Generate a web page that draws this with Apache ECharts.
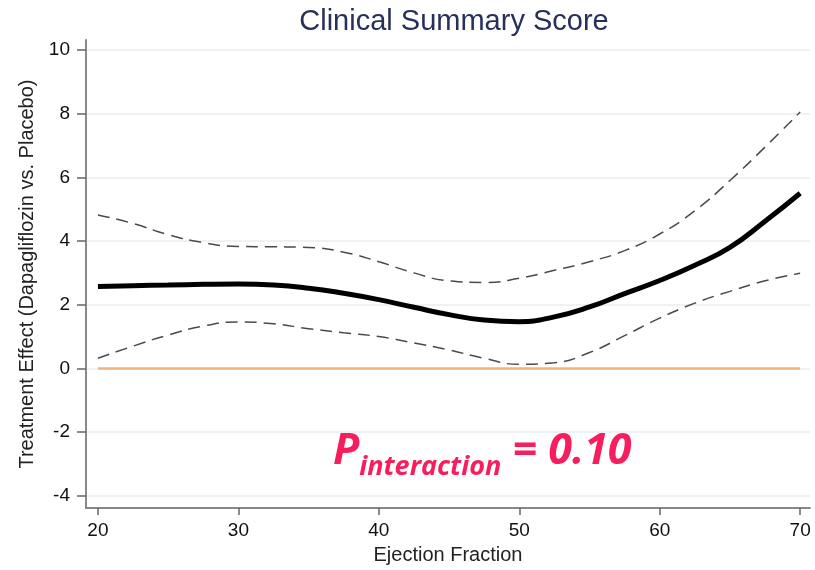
<!DOCTYPE html>
<html>
<head>
<meta charset="utf-8">
<script src="https://cdn.jsdelivr.net/npm/echarts@6/dist/echarts.min.js"></script>
<style>html,body{margin:0;padding:0;background:#fff}#c{width:815px;height:570px}</style>
</head>
<body>
<div id="c"></div>
<script>
var ef = [20, 22.5, 25, 27.5, 30, 32.5, 35, 37.5, 40, 42.5, 45, 47.5, 50, 52.5, 55, 57.5, 60, 62.5, 65, 67.5, 70];
var effect = [2.57, 2.60, 2.62, 2.64, 2.65, 2.62, 2.52, 2.36, 2.16, 1.92, 1.69, 1.52, 1.47, 1.62, 1.93, 2.35, 2.76, 3.24, 3.8, 4.62, 5.5];
var upper = [4.82, 4.55, 4.2, 3.95, 3.83, 3.82, 3.8, 3.65, 3.35, 3.0, 2.75, 2.7, 2.83, 3.08, 3.35, 3.7, 4.22, 4.95, 5.9, 6.95, 8.05];
var lower = [0.32, 0.7, 1.05, 1.33, 1.46, 1.4, 1.25, 1.12, 1.0, 0.8, 0.58, 0.32, 0.13, 0.18, 0.5, 1.03, 1.58, 2.05, 2.42, 2.75, 2.99];
var refLine = [0, 0];
var refX = [20, 70];
var xTicks = [20, 30, 40, 50, 60, 70];
var yTicks = [-4, -2, 0, 2, 4, 6, 8, 10];

function pairs(xs, ys) { return xs.map(function (x, i) { return [x, ys[i]]; }); }

var chart = echarts.init(document.getElementById('c'));
chart.setOption({
  animation: false,
  backgroundColor: '#fff',
  title: {
    text: 'Clinical Summary Score',
    left: 449, textAlign: 'center', top: 2,
    textStyle: { fontFamily: 'Liberation Sans', fontWeight: 'normal', fontSize: 29, color: '#27305a' }
  },
  grid: { left: 86, right: 5, top: 40, bottom: 62 },
  xAxis: {
    type: 'value', min: 19.15, max: 70.7,
    name: 'Ejection Fraction', nameLocation: 'middle', nameGap: 37,
    nameTextStyle: { fontFamily: 'Liberation Sans', fontSize: 20, color: '#222' },
    axisLine: { show: true, onZero: false, lineStyle: { color: '#888', width: 2 } },
    axisTick: { show: true, length: 7, lineStyle: { color: '#666', width: 1.5 }, customValues: xTicks },
    axisLabel: { fontFamily: 'Liberation Sans', fontSize: 19, color: '#111', margin: 13, customValues: xTicks },
    splitLine: { show: false }
  },
  yAxis: {
    type: 'value', min: -4.38, max: 10.31,
    name: 'Treatment Effect (Dapagliflozin vs. Placebo)', nameLocation: 'middle', nameGap: 46,
    nameTextStyle: { fontFamily: 'Liberation Sans', fontSize: 20, color: '#222' },
    axisLine: { show: true, onZero: false, lineStyle: { color: '#888', width: 2 } },
    axisTick: { show: true, length: 9, lineStyle: { color: '#666', width: 1.5 }, customValues: yTicks },
    axisLabel: { fontFamily: 'Liberation Sans', fontSize: 19, color: '#111', margin: 16, customValues: yTicks },
    splitLine: { show: true, lineStyle: { color: '#e9eef4', width: 1.5 } }
  },
  series: [
    { type: 'line', data: pairs(refX, refLine), symbol: 'none', lineStyle: { color: '#f0b483', width: 2.5 }, z: 1 },
    { type: 'line', data: pairs(ef, upper), smooth: 0.5, symbol: 'none', lineStyle: { color: '#4a4a4a', width: 1.5, type: [12, 7] }, z: 2 },
    { type: 'line', data: pairs(ef, lower), smooth: 0.5, symbol: 'none', lineStyle: { color: '#4a4a4a', width: 1.5, type: [12, 7] }, z: 2 },
    { type: 'line', data: pairs(ef, effect), smooth: 0.5, symbol: 'none', lineStyle: { color: '#000', width: 5 }, z: 3 }
  ],
  graphic: [{
    type: 'text', left: 333, top: 430, z: 10,
    style: {
      text: '{a|P}{b|interaction}{a| = 0.10}',
      rich: {
        a: { fontFamily: 'Open Sans', fontStyle: 'italic', fontWeight: 'bold', fontSize: 43, fill: '#f81d5c', verticalAlign: 'bottom', lineHeight: 54 },
        b: { fontFamily: 'Open Sans', fontStyle: 'italic', fontWeight: 'bold', fontSize: 27, fill: '#f81d5c', verticalAlign: 'bottom', lineHeight: 54, padding: [0, 0, -8, 0] }
      }
    }
  }]
});
</script>
</body>
</html>
